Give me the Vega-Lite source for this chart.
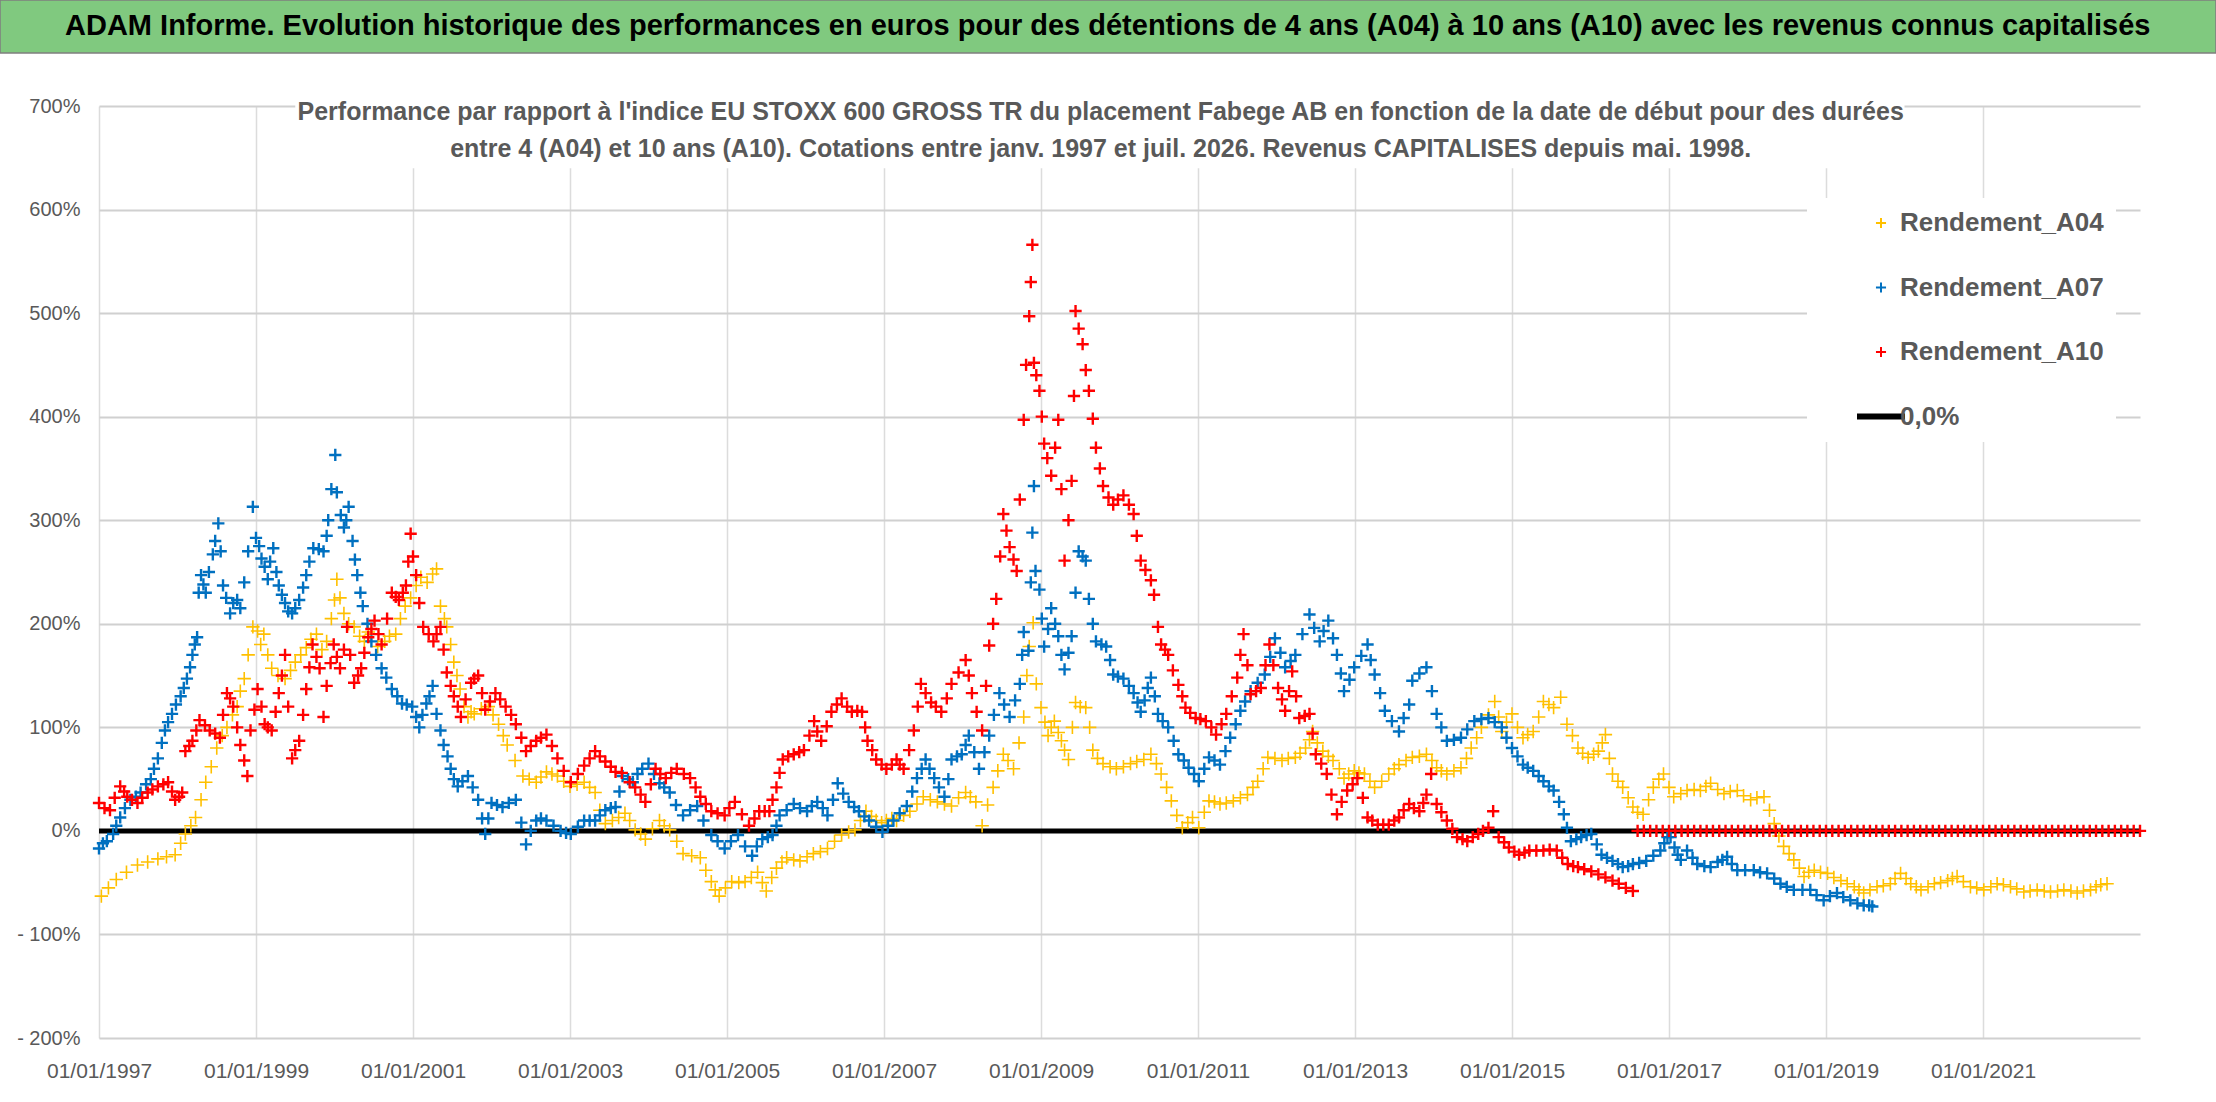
{
  "$schema": "https://vega.github.io/schema/vega-lite/v6.json",
  "background": "#ffffff",
  "autosize": "none",
  "padding": {"left": 99, "top": 106, "right": 76, "bottom": 64},
  "width": 2041,
  "height": 932,
  "config": {
    "font": "Liberation Sans",
    "view": {"stroke": null},
    "axis": {"labelColor": "#595959", "domain": false, "ticks": false, "title": null}
  },
  "datasets": {
    "a04": [
      {"annee":1997.03,"perf":-63},{"annee":1997.12,"perf":-55},{"annee":1997.22,"perf":-47},{"annee":1997.35,"perf":-40},{"annee":1997.49,"perf":-33},{"annee":1997.62,"perf":-30},{"annee":1997.75,"perf":-27},{"annee":1997.86,"perf":-25},{"annee":1997.97,"perf":-23},{"annee":1998.04,"perf":-12},{"annee":1998.1,"perf":-3},{"annee":1998.17,"perf":5},{"annee":1998.23,"perf":13},{"annee":1998.3,"perf":30},{"annee":1998.36,"perf":47},{"annee":1998.43,"perf":62},{"annee":1998.5,"perf":80},{"annee":1998.57,"perf":92},{"annee":1998.63,"perf":100},{"annee":1998.7,"perf":112},{"annee":1998.76,"perf":120},{"annee":1998.8,"perf":135},{"annee":1998.85,"perf":147},{"annee":1998.9,"perf":170},{"annee":1998.96,"perf":197},{"annee":1999.02,"perf":193},{"annee":1999.06,"perf":180},{"annee":1999.1,"perf":190},{"annee":1999.15,"perf":170},{"annee":1999.2,"perf":157},{"annee":1999.28,"perf":150},{"annee":1999.37,"perf":147},{"annee":1999.44,"perf":155},{"annee":1999.5,"perf":163},{"annee":1999.57,"perf":170},{"annee":1999.64,"perf":177},{"annee":1999.7,"perf":185},{"annee":1999.77,"perf":190},{"annee":1999.84,"perf":175},{"annee":1999.9,"perf":183},{"annee":1999.96,"perf":205},{"annee":2000.0,"perf":223},{"annee":2000.03,"perf":243},{"annee":2000.07,"perf":225},{"annee":2000.12,"perf":210},{"annee":2000.18,"perf":200},{"annee":2000.25,"perf":197},{"annee":2000.32,"perf":188},{"annee":2000.38,"perf":183},{"annee":2000.43,"perf":192},{"annee":2000.47,"perf":190},{"annee":2000.55,"perf":178},{"annee":2000.64,"perf":183},{"annee":2000.7,"perf":188},{"annee":2000.78,"perf":190},{"annee":2000.84,"perf":205},{"annee":2000.9,"perf":217},{"annee":2000.97,"perf":225},{"annee":2001.04,"perf":237},{"annee":2001.1,"perf":245},{"annee":2001.18,"perf":240},{"annee":2001.25,"perf":248},{"annee":2001.3,"perf":253},{"annee":2001.35,"perf":217},{"annee":2001.4,"perf":205},{"annee":2001.43,"perf":197},{"annee":2001.48,"perf":180},{"annee":2001.52,"perf":163},{"annee":2001.56,"perf":150},{"annee":2001.6,"perf":137},{"annee":2001.65,"perf":120},{"annee":2001.7,"perf":110},{"annee":2001.74,"perf":115},{"annee":2001.78,"perf":113},{"annee":2001.87,"perf":118},{"annee":2001.96,"perf":120},{"annee":2002.02,"perf":112},{"annee":2002.09,"perf":103},{"annee":2002.15,"perf":92},{"annee":2002.2,"perf":83},{"annee":2002.3,"perf":68},{"annee":2002.4,"perf":53},{"annee":2002.48,"perf":50},{"annee":2002.57,"perf":47},{"annee":2002.63,"perf":52},{"annee":2002.7,"perf":57},{"annee":2002.77,"perf":55},{"annee":2002.84,"perf":53},{"annee":2002.92,"perf":48},{"annee":2003.0,"perf":43},{"annee":2003.09,"perf":45},{"annee":2003.18,"perf":47},{"annee":2003.25,"perf":42},{"annee":2003.32,"perf":37},{"annee":2003.38,"perf":20},{"annee":2003.45,"perf":7},{"annee":2003.54,"perf":10},{"annee":2003.62,"perf":13},{"annee":2003.7,"perf":17},{"annee":2003.76,"perf":10},{"annee":2003.83,"perf":1},{"annee":2003.9,"perf":-3},{"annee":2003.96,"perf":-8},{"annee":2004.05,"perf":2},{"annee":2004.14,"perf":10},{"annee":2004.2,"perf":5},{"annee":2004.27,"perf":1},{"annee":2004.36,"perf":-10},{"annee":2004.44,"perf":-22},{"annee":2004.55,"perf":-24},{"annee":2004.66,"perf":-26},{"annee":2004.73,"perf":-38},{"annee":2004.8,"perf":-49},{"annee":2004.85,"perf":-57},{"annee":2004.9,"perf":-63},{"annee":2004.98,"perf":-55},{"annee":2005.06,"perf":-49},{"annee":2005.15,"perf":-50},{"annee":2005.23,"perf":-49},{"annee":2005.31,"perf":-45},{"annee":2005.39,"perf":-40},{"annee":2005.45,"perf":-50},{"annee":2005.5,"perf":-58},{"annee":2005.57,"perf":-45},{"annee":2005.63,"perf":-36},{"annee":2005.7,"perf":-30},{"annee":2005.76,"perf":-26},{"annee":2005.85,"perf":-28},{"annee":2005.93,"perf":-29},{"annee":2006.02,"perf":-25},{"annee":2006.1,"perf":-22},{"annee":2006.19,"perf":-20},{"annee":2006.28,"perf":-17},{"annee":2006.37,"perf":-10},{"annee":2006.46,"perf":-4},{"annee":2006.55,"perf":-1},{"annee":2006.63,"perf":1},{"annee":2006.7,"perf":10},{"annee":2006.77,"perf":19},{"annee":2006.84,"perf":14},{"annee":2006.9,"perf":10},{"annee":2006.97,"perf":8},{"annee":2007.03,"perf":10},{"annee":2007.1,"perf":12},{"annee":2007.16,"perf":10},{"annee":2007.25,"perf":15},{"annee":2007.33,"perf":19},{"annee":2007.42,"perf":26},{"annee":2007.5,"perf":33},{"annee":2007.59,"perf":30},{"annee":2007.68,"perf":28},{"annee":2007.77,"perf":26},{"annee":2007.86,"perf":24},{"annee":2007.95,"perf":32},{"annee":2008.04,"perf":37},{"annee":2008.1,"perf":33},{"annee":2008.17,"perf":28},{"annee":2008.25,"perf":5},{"annee":2008.32,"perf":25},{"annee":2008.39,"perf":42},{"annee":2008.45,"perf":58},{"annee":2008.52,"perf":74},{"annee":2008.58,"perf":68},{"annee":2008.65,"perf":60},{"annee":2008.72,"perf":85},{"annee":2008.78,"perf":110},{"annee":2008.82,"perf":150},{"annee":2008.85,"perf":178},{"annee":2008.9,"perf":201},{"annee":2008.94,"perf":142},{"annee":2009.0,"perf":119},{"annee":2009.05,"perf":105},{"annee":2009.09,"perf":92},{"annee":2009.13,"perf":100},{"annee":2009.17,"perf":106},{"annee":2009.22,"perf":95},{"annee":2009.26,"perf":87},{"annee":2009.3,"perf":78},{"annee":2009.35,"perf":69},{"annee":2009.4,"perf":100},{"annee":2009.44,"perf":124},{"annee":2009.5,"perf":120},{"annee":2009.57,"perf":119},{"annee":2009.62,"perf":100},{"annee":2009.66,"perf":78},{"annee":2009.72,"perf":70},{"annee":2009.79,"perf":65},{"annee":2009.88,"perf":62},{"annee":2009.96,"perf":60},{"annee":2010.05,"perf":62},{"annee":2010.14,"perf":65},{"annee":2010.22,"perf":67},{"annee":2010.31,"perf":69},{"annee":2010.4,"perf":74},{"annee":2010.47,"perf":65},{"annee":2010.53,"perf":55},{"annee":2010.6,"perf":42},{"annee":2010.66,"perf":29},{"annee":2010.73,"perf":15},{"annee":2010.8,"perf":3},{"annee":2010.87,"perf":8},{"annee":2010.93,"perf":13},{"annee":2011.01,"perf":3},{"annee":2011.08,"perf":18},{"annee":2011.14,"perf":29},{"annee":2011.21,"perf":28},{"annee":2011.28,"perf":26},{"annee":2011.36,"perf":27},{"annee":2011.45,"perf":29},{"annee":2011.54,"perf":32},{"annee":2011.63,"perf":35},{"annee":2011.7,"perf":42},{"annee":2011.76,"perf":48},{"annee":2011.83,"perf":60},{"annee":2011.89,"perf":71},{"annee":2011.98,"perf":70},{"annee":2012.07,"perf":68},{"annee":2012.15,"perf":70},{"annee":2012.24,"perf":71},{"annee":2012.3,"perf":75},{"annee":2012.37,"perf":80},{"annee":2012.42,"perf":88},{"annee":2012.46,"perf":96},{"annee":2012.52,"perf":85},{"annee":2012.59,"perf":77},{"annee":2012.66,"perf":72},{"annee":2012.72,"perf":68},{"annee":2012.8,"perf":60},{"annee":2012.86,"perf":51},{"annee":2012.92,"perf":55},{"annee":2012.99,"perf":58},{"annee":2013.05,"perf":56},{"annee":2013.12,"perf":55},{"annee":2013.19,"perf":48},{"annee":2013.25,"perf":42},{"annee":2013.34,"perf":48},{"annee":2013.43,"perf":55},{"annee":2013.5,"perf":60},{"annee":2013.56,"perf":64},{"annee":2013.65,"perf":68},{"annee":2013.73,"perf":71},{"annee":2013.82,"perf":72},{"annee":2013.91,"perf":74},{"annee":2013.98,"perf":68},{"annee":2014.04,"perf":61},{"annee":2014.1,"perf":58},{"annee":2014.17,"perf":55},{"annee":2014.26,"perf":58},{"annee":2014.35,"perf":61},{"annee":2014.42,"perf":70},{"annee":2014.48,"perf":80},{"annee":2014.55,"perf":90},{"annee":2014.61,"perf":100},{"annee":2014.7,"perf":112},{"annee":2014.78,"perf":125},{"annee":2014.83,"perf":110},{"annee":2014.87,"perf":96},{"annee":2014.93,"perf":105},{"annee":2015.0,"perf":113},{"annee":2015.07,"perf":100},{"annee":2015.14,"perf":90},{"annee":2015.2,"perf":93},{"annee":2015.27,"perf":96},{"annee":2015.34,"perf":110},{"annee":2015.4,"perf":125},{"annee":2015.47,"perf":122},{"annee":2015.53,"perf":119},{"annee":2015.62,"perf":129},{"annee":2015.7,"perf":103},{"annee":2015.77,"perf":92},{"annee":2015.84,"perf":80},{"annee":2015.9,"perf":75},{"annee":2015.97,"perf":71},{"annee":2016.04,"perf":74},{"annee":2016.1,"perf":77},{"annee":2016.15,"perf":85},{"annee":2016.19,"perf":93},{"annee":2016.24,"perf":70},{"annee":2016.28,"perf":55},{"annee":2016.35,"perf":48},{"annee":2016.41,"perf":42},{"annee":2016.48,"perf":32},{"annee":2016.54,"perf":23},{"annee":2016.6,"perf":18},{"annee":2016.67,"perf":16},{"annee":2016.74,"perf":30},{"annee":2016.8,"perf":42},{"annee":2016.87,"perf":50},{"annee":2016.93,"perf":55},{"annee":2017.0,"perf":42},{"annee":2017.06,"perf":33},{"annee":2017.15,"perf":36},{"annee":2017.23,"perf":39},{"annee":2017.32,"perf":40},{"annee":2017.4,"perf":39},{"annee":2017.47,"perf":43},{"annee":2017.53,"perf":46},{"annee":2017.62,"perf":40},{"annee":2017.7,"perf":36},{"annee":2017.78,"perf":38},{"annee":2017.87,"perf":39},{"annee":2017.95,"perf":34},{"annee":2018.04,"perf":30},{"annee":2018.12,"perf":32},{"annee":2018.21,"perf":33},{"annee":2018.28,"perf":20},{"annee":2018.34,"perf":7},{"annee":2018.4,"perf":-5},{"annee":2018.46,"perf":-15},{"annee":2018.53,"perf":-22},{"annee":2018.59,"perf":-28},{"annee":2018.66,"perf":-36},{"annee":2018.72,"perf":-44},{"annee":2018.78,"perf":-40},{"annee":2018.85,"perf":-38},{"annee":2018.93,"perf":-40},{"annee":2019.02,"perf":-41},{"annee":2019.1,"perf":-45},{"annee":2019.19,"perf":-48},{"annee":2019.27,"perf":-51},{"annee":2019.36,"perf":-54},{"annee":2019.42,"perf":-57},{"annee":2019.48,"perf":-60},{"annee":2019.56,"perf":-57},{"annee":2019.65,"perf":-54},{"annee":2019.73,"perf":-53},{"annee":2019.82,"perf":-51},{"annee":2019.88,"perf":-46},{"annee":2019.95,"perf":-41},{"annee":2020.02,"perf":-46},{"annee":2020.08,"perf":-51},{"annee":2020.15,"perf":-54},{"annee":2020.21,"perf":-57},{"annee":2020.3,"perf":-54},{"annee":2020.38,"perf":-51},{"annee":2020.46,"perf":-50},{"annee":2020.55,"perf":-48},{"annee":2020.61,"perf":-46},{"annee":2020.67,"perf":-44},{"annee":2020.75,"perf":-49},{"annee":2020.84,"perf":-54},{"annee":2020.92,"perf":-55},{"annee":2021.01,"perf":-57},{"annee":2021.1,"perf":-54},{"annee":2021.18,"perf":-51},{"annee":2021.26,"perf":-52},{"annee":2021.35,"perf":-54},{"annee":2021.43,"perf":-56},{"annee":2021.52,"perf":-59},{"annee":2021.6,"perf":-58},{"annee":2021.69,"perf":-57},{"annee":2021.78,"perf":-58},{"annee":2021.86,"perf":-59},{"annee":2021.95,"perf":-58},{"annee":2022.03,"perf":-57},{"annee":2022.12,"perf":-58},{"annee":2022.2,"perf":-60},{"annee":2022.28,"perf":-58},{"annee":2022.37,"perf":-57},{"annee":2022.44,"perf":-54},{"annee":2022.5,"perf":-52},{"annee":2022.58,"perf":-51}
    ],
    "a07": [
      {"annee":1997.0,"perf":-17},{"annee":1997.05,"perf":-12},{"annee":1997.1,"perf":-10},{"annee":1997.18,"perf":-3},{"annee":1997.22,"perf":5},{"annee":1997.27,"perf":13},{"annee":1997.33,"perf":22},{"annee":1997.4,"perf":30},{"annee":1997.47,"perf":33},{"annee":1997.53,"perf":37},{"annee":1997.6,"perf":45},{"annee":1997.66,"perf":50},{"annee":1997.7,"perf":60},{"annee":1997.75,"perf":70},{"annee":1997.8,"perf":85},{"annee":1997.84,"perf":97},{"annee":1997.88,"perf":105},{"annee":1997.93,"perf":113},{"annee":1997.98,"perf":122},{"annee":1998.04,"perf":130},{"annee":1998.08,"perf":138},{"annee":1998.12,"perf":147},{"annee":1998.16,"perf":158},{"annee":1998.19,"perf":170},{"annee":1998.22,"perf":180},{"annee":1998.25,"perf":187},{"annee":1998.27,"perf":230},{"annee":1998.3,"perf":247},{"annee":1998.33,"perf":238},{"annee":1998.36,"perf":230},{"annee":1998.4,"perf":250},{"annee":1998.45,"perf":267},{"annee":1998.48,"perf":280},{"annee":1998.52,"perf":297},{"annee":1998.55,"perf":270},{"annee":1998.58,"perf":237},{"annee":1998.62,"perf":225},{"annee":1998.67,"perf":210},{"annee":1998.71,"perf":220},{"annee":1998.76,"perf":223},{"annee":1998.8,"perf":215},{"annee":1998.85,"perf":240},{"annee":1998.9,"perf":270},{"annee":1998.96,"perf":313},{"annee":1999.0,"perf":283},{"annee":1999.04,"perf":275},{"annee":1999.07,"perf":263},{"annee":1999.11,"perf":255},{"annee":1999.15,"perf":243},{"annee":1999.18,"perf":260},{"annee":1999.22,"perf":273},{"annee":1999.26,"perf":250},{"annee":1999.29,"perf":237},{"annee":1999.33,"perf":228},{"annee":1999.37,"perf":220},{"annee":1999.41,"perf":212},{"annee":1999.46,"perf":210},{"annee":1999.5,"perf":215},{"annee":1999.55,"perf":223},{"annee":1999.6,"perf":235},{"annee":1999.64,"perf":247},{"annee":1999.68,"perf":260},{"annee":1999.73,"perf":273},{"annee":1999.8,"perf":272},{"annee":1999.86,"perf":270},{"annee":1999.9,"perf":285},{"annee":1999.92,"perf":300},{"annee":1999.96,"perf":330},{"annee":2000.01,"perf":363},{"annee":2000.03,"perf":327},{"annee":2000.08,"perf":305},{"annee":2000.12,"perf":293},{"annee":2000.15,"perf":300},{"annee":2000.18,"perf":313},{"annee":2000.23,"perf":280},{"annee":2000.26,"perf":262},{"annee":2000.29,"perf":247},{"annee":2000.33,"perf":230},{"annee":2000.36,"perf":217},{"annee":2000.42,"perf":200},{"annee":2000.47,"perf":183},{"annee":2000.53,"perf":170},{"annee":2000.6,"perf":157},{"annee":2000.66,"perf":148},{"annee":2000.73,"perf":137},{"annee":2000.8,"perf":130},{"annee":2000.86,"perf":123},{"annee":2000.92,"perf":122},{"annee":2000.99,"perf":120},{"annee":2001.04,"perf":110},{"annee":2001.08,"perf":100},{"annee":2001.12,"perf":112},{"annee":2001.17,"perf":123},{"annee":2001.21,"perf":130},{"annee":2001.25,"perf":140},{"annee":2001.3,"perf":113},{"annee":2001.35,"perf":97},{"annee":2001.39,"perf":83},{"annee":2001.44,"perf":72},{"annee":2001.48,"perf":60},{"annee":2001.52,"perf":50},{"annee":2001.57,"perf":43},{"annee":2001.63,"perf":48},{"annee":2001.7,"perf":53},{"annee":2001.76,"perf":42},{"annee":2001.83,"perf":30},{"annee":2001.88,"perf":12},{"annee":2001.92,"perf":-3},{"annee":2001.96,"perf":12},{"annee":2002.0,"perf":27},{"annee":2002.07,"perf":25},{"annee":2002.14,"perf":23},{"annee":2002.22,"perf":27},{"annee":2002.31,"perf":30},{"annee":2002.38,"perf":8},{"annee":2002.44,"perf":-13},{"annee":2002.5,"perf":0},{"annee":2002.57,"perf":10},{"annee":2002.63,"perf":12},{"annee":2002.7,"perf":10},{"annee":2002.79,"perf":5},{"annee":2002.88,"perf":0},{"annee":2002.95,"perf":-2},{"annee":2003.01,"perf":-3},{"annee":2003.1,"perf":4},{"annee":2003.18,"perf":10},{"annee":2003.25,"perf":10},{"annee":2003.32,"perf":10},{"annee":2003.38,"perf":15},{"annee":2003.45,"perf":20},{"annee":2003.52,"perf":22},{"annee":2003.58,"perf":23},{"annee":2003.63,"perf":38},{"annee":2003.67,"perf":53},{"annee":2003.74,"perf":50},{"annee":2003.8,"perf":47},{"annee":2003.86,"perf":55},{"annee":2003.92,"perf":60},{"annee":2004.0,"perf":65},{"annee":2004.07,"perf":55},{"annee":2004.14,"perf":46},{"annee":2004.2,"perf":42},{"annee":2004.27,"perf":37},{"annee":2004.35,"perf":25},{"annee":2004.44,"perf":15},{"annee":2004.53,"perf":20},{"annee":2004.62,"perf":24},{"annee":2004.7,"perf":10},{"annee":2004.8,"perf":-4},{"annee":2004.88,"perf":-10},{"annee":2004.97,"perf":-17},{"annee":2005.05,"perf":-10},{"annee":2005.14,"perf":-4},{"annee":2005.23,"perf":-15},{"annee":2005.32,"perf":-24},{"annee":2005.38,"perf":-15},{"annee":2005.45,"perf":-8},{"annee":2005.52,"perf":-6},{"annee":2005.58,"perf":-4},{"annee":2005.63,"perf":5},{"annee":2005.67,"perf":15},{"annee":2005.76,"perf":20},{"annee":2005.85,"perf":26},{"annee":2005.93,"perf":22},{"annee":2006.02,"perf":19},{"annee":2006.08,"perf":24},{"annee":2006.15,"perf":28},{"annee":2006.22,"perf":22},{"annee":2006.28,"perf":15},{"annee":2006.35,"perf":30},{"annee":2006.41,"perf":46},{"annee":2006.48,"perf":36},{"annee":2006.55,"perf":28},{"annee":2006.62,"perf":23},{"annee":2006.68,"perf":19},{"annee":2006.75,"perf":14},{"annee":2006.81,"perf":10},{"annee":2006.9,"perf":4},{"annee":2006.98,"perf":-1},{"annee":2007.05,"perf":5},{"annee":2007.12,"perf":10},{"annee":2007.2,"perf":17},{"annee":2007.29,"perf":24},{"annee":2007.36,"perf":38},{"annee":2007.42,"perf":51},{"annee":2007.48,"perf":60},{"annee":2007.53,"perf":69},{"annee":2007.58,"perf":60},{"annee":2007.64,"perf":51},{"annee":2007.7,"perf":42},{"annee":2007.77,"perf":33},{"annee":2007.82,"perf":50},{"annee":2007.86,"perf":69},{"annee":2007.93,"perf":72},{"annee":2007.99,"perf":74},{"annee":2008.04,"perf":83},{"annee":2008.08,"perf":92},{"annee":2008.15,"perf":76},{"annee":2008.21,"perf":60},{"annee":2008.28,"perf":76},{"annee":2008.34,"perf":92},{"annee":2008.4,"perf":112},{"annee":2008.47,"perf":133},{"annee":2008.53,"perf":122},{"annee":2008.6,"perf":110},{"annee":2008.67,"perf":126},{"annee":2008.73,"perf":142},{"annee":2008.76,"perf":170},{"annee":2008.78,"perf":192},{"annee":2008.84,"perf":174},{"annee":2008.87,"perf":240},{"annee":2008.89,"perf":288},{"annee":2008.91,"perf":333},{"annee":2008.93,"perf":251},{"annee":2008.98,"perf":233},{"annee":2009.01,"perf":205},{"annee":2009.04,"perf":178},{"annee":2009.09,"perf":195},{"annee":2009.13,"perf":215},{"annee":2009.18,"perf":200},{"annee":2009.22,"perf":188},{"annee":2009.26,"perf":170},{"annee":2009.3,"perf":156},{"annee":2009.35,"perf":172},{"annee":2009.39,"perf":188},{"annee":2009.44,"perf":230},{"annee":2009.48,"perf":270},{"annee":2009.53,"perf":265},{"annee":2009.57,"perf":261},{"annee":2009.61,"perf":224},{"annee":2009.66,"perf":200},{"annee":2009.7,"perf":183},{"annee":2009.77,"perf":180},{"annee":2009.83,"perf":178},{"annee":2009.88,"perf":165},{"annee":2009.92,"perf":151},{"annee":2009.98,"perf":149},{"annee":2010.05,"perf":147},{"annee":2010.12,"perf":140},{"annee":2010.18,"perf":133},{"annee":2010.23,"perf":124},{"annee":2010.27,"perf":115},{"annee":2010.32,"perf":126},{"annee":2010.36,"perf":138},{"annee":2010.4,"perf":148},{"annee":2010.45,"perf":130},{"annee":2010.49,"perf":113},{"annee":2010.55,"perf":106},{"annee":2010.62,"perf":100},{"annee":2010.69,"perf":87},{"annee":2010.75,"perf":74},{"annee":2010.82,"perf":68},{"annee":2010.88,"perf":61},{"annee":2010.95,"perf":55},{"annee":2011.01,"perf":48},{"annee":2011.08,"perf":60},{"annee":2011.14,"perf":71},{"annee":2011.21,"perf":68},{"annee":2011.28,"perf":64},{"annee":2011.35,"perf":77},{"annee":2011.41,"perf":90},{"annee":2011.48,"perf":103},{"annee":2011.54,"perf":116},{"annee":2011.6,"perf":125},{"annee":2011.67,"perf":135},{"annee":2011.76,"perf":143},{"annee":2011.85,"perf":151},{"annee":2011.92,"perf":168},{"annee":2011.98,"perf":186},{"annee":2012.05,"perf":172},{"annee":2012.11,"perf":158},{"annee":2012.18,"perf":164},{"annee":2012.24,"perf":170},{"annee":2012.33,"perf":190},{"annee":2012.42,"perf":209},{"annee":2012.48,"perf":196},{"annee":2012.55,"perf":183},{"annee":2012.6,"perf":193},{"annee":2012.66,"perf":203},{"annee":2012.72,"perf":186},{"annee":2012.77,"perf":170},{"annee":2012.82,"perf":152},{"annee":2012.86,"perf":135},{"annee":2012.93,"perf":146},{"annee":2012.99,"perf":158},{"annee":2013.08,"perf":169},{"annee":2013.16,"perf":180},{"annee":2013.2,"perf":165},{"annee":2013.25,"perf":151},{"annee":2013.32,"perf":133},{"annee":2013.38,"perf":116},{"annee":2013.47,"perf":106},{"annee":2013.56,"perf":96},{"annee":2013.62,"perf":109},{"annee":2013.69,"perf":122},{"annee":2013.73,"perf":145},{"annee":2013.82,"perf":152},{"annee":2013.91,"perf":158},{"annee":2013.98,"perf":135},{"annee":2014.04,"perf":113},{"annee":2014.1,"perf":100},{"annee":2014.17,"perf":87},{"annee":2014.26,"perf":88},{"annee":2014.35,"perf":90},{"annee":2014.43,"perf":98},{"annee":2014.52,"perf":106},{"annee":2014.61,"perf":108},{"annee":2014.7,"perf":109},{"annee":2014.78,"perf":105},{"annee":2014.87,"perf":100},{"annee":2014.93,"perf":90},{"annee":2015.0,"perf":80},{"annee":2015.07,"perf":72},{"annee":2015.14,"perf":64},{"annee":2015.2,"perf":61},{"annee":2015.27,"perf":58},{"annee":2015.34,"perf":53},{"annee":2015.4,"perf":48},{"annee":2015.47,"perf":43},{"annee":2015.53,"perf":39},{"annee":2015.6,"perf":28},{"annee":2015.66,"perf":16},{"annee":2015.7,"perf":3},{"annee":2015.75,"perf":-10},{"annee":2015.82,"perf":-8},{"annee":2015.88,"perf":-6},{"annee":2015.95,"perf":-4},{"annee":2016.01,"perf":-3},{"annee":2016.08,"perf":-13},{"annee":2016.14,"perf":-23},{"annee":2016.21,"perf":-26},{"annee":2016.28,"perf":-29},{"annee":2016.35,"perf":-32},{"annee":2016.41,"perf":-35},{"annee":2016.48,"perf":-34},{"annee":2016.54,"perf":-32},{"annee":2016.62,"perf":-31},{"annee":2016.71,"perf":-29},{"annee":2016.8,"perf":-24},{"annee":2016.89,"perf":-19},{"annee":2016.94,"perf":-12},{"annee":2016.98,"perf":-6},{"annee":2017.02,"perf":-6},{"annee":2017.07,"perf":-16},{"annee":2017.11,"perf":-23},{"annee":2017.15,"perf":-28},{"annee":2017.23,"perf":-19},{"annee":2017.3,"perf":-26},{"annee":2017.36,"perf":-32},{"annee":2017.45,"perf":-34},{"annee":2017.53,"perf":-35},{"annee":2017.62,"perf":-30},{"annee":2017.68,"perf":-28},{"annee":2017.74,"perf":-25},{"annee":2017.8,"perf":-32},{"annee":2017.87,"perf":-38},{"annee":2017.97,"perf":-38},{"annee":2018.08,"perf":-38},{"annee":2018.16,"perf":-40},{"annee":2018.25,"perf":-41},{"annee":2018.34,"perf":-46},{"annee":2018.42,"perf":-51},{"annee":2018.5,"perf":-54},{"annee":2018.59,"perf":-57},{"annee":2018.7,"perf":-57},{"annee":2018.8,"perf":-57},{"annee":2018.88,"perf":-62},{"annee":2018.97,"perf":-67},{"annee":2019.05,"perf":-63},{"annee":2019.14,"perf":-60},{"annee":2019.22,"perf":-64},{"annee":2019.31,"perf":-67},{"annee":2019.4,"perf":-70},{"annee":2019.48,"perf":-72},{"annee":2019.55,"perf":-72},{"annee":2019.59,"perf":-73}
    ],
    "a10": [
      {"annee":1997.0,"perf":27},{"annee":1997.07,"perf":22},{"annee":1997.14,"perf":20},{"annee":1997.2,"perf":32},{"annee":1997.27,"perf":43},{"annee":1997.32,"perf":38},{"annee":1997.36,"perf":33},{"annee":1997.42,"perf":30},{"annee":1997.49,"perf":27},{"annee":1997.55,"perf":32},{"annee":1997.62,"perf":37},{"annee":1997.68,"perf":40},{"annee":1997.75,"perf":43},{"annee":1997.82,"perf":45},{"annee":1997.88,"perf":47},{"annee":1997.93,"perf":38},{"annee":1997.97,"perf":30},{"annee":1998.02,"perf":33},{"annee":1998.06,"perf":37},{"annee":1998.1,"perf":77},{"annee":1998.15,"perf":82},{"annee":1998.19,"perf":87},{"annee":1998.24,"perf":97},{"annee":1998.28,"perf":107},{"annee":1998.35,"perf":102},{"annee":1998.41,"perf":97},{"annee":1998.48,"perf":94},{"annee":1998.54,"perf":90},{"annee":1998.58,"perf":112},{"annee":1998.63,"perf":133},{"annee":1998.67,"perf":128},{"annee":1998.71,"perf":120},{"annee":1998.76,"perf":100},{"annee":1998.8,"perf":83},{"annee":1998.85,"perf":68},{"annee":1998.89,"perf":53},{"annee":1998.93,"perf":97},{"annee":1998.98,"perf":117},{"annee":1999.02,"perf":137},{"annee":1999.07,"perf":120},{"annee":1999.11,"perf":103},{"annee":1999.15,"perf":100},{"annee":1999.2,"perf":97},{"annee":1999.25,"perf":115},{"annee":1999.29,"perf":133},{"annee":1999.33,"perf":150},{"annee":1999.37,"perf":170},{"annee":1999.41,"perf":120},{"annee":1999.46,"perf":70},{"annee":1999.5,"perf":78},{"annee":1999.55,"perf":87},{"annee":1999.6,"perf":112},{"annee":1999.64,"perf":137},{"annee":1999.68,"perf":158},{"annee":1999.72,"perf":180},{"annee":1999.77,"perf":168},{"annee":1999.81,"perf":157},{"annee":1999.86,"perf":110},{"annee":1999.9,"perf":140},{"annee":1999.95,"perf":162},{"annee":1999.99,"perf":180},{"annee":2000.03,"perf":168},{"annee":2000.07,"perf":157},{"annee":2000.12,"perf":175},{"annee":2000.16,"perf":197},{"annee":2000.2,"perf":170},{"annee":2000.25,"perf":143},{"annee":2000.3,"perf":150},{"annee":2000.34,"perf":157},{"annee":2000.38,"perf":172},{"annee":2000.43,"perf":187},{"annee":2000.47,"perf":195},{"annee":2000.51,"perf":203},{"annee":2000.56,"perf":190},{"annee":2000.6,"perf":180},{"annee":2000.67,"perf":205},{"annee":2000.73,"perf":230},{"annee":2000.78,"perf":226},{"annee":2000.82,"perf":223},{"annee":2000.87,"perf":230},{"annee":2000.91,"perf":237},{"annee":2000.94,"perf":260},{"annee":2000.97,"perf":287},{"annee":2001.0,"perf":265},{"annee":2001.04,"perf":247},{"annee":2001.08,"perf":220},{"annee":2001.13,"perf":197},{"annee":2001.2,"perf":190},{"annee":2001.26,"perf":183},{"annee":2001.3,"perf":190},{"annee":2001.35,"perf":197},{"annee":2001.39,"perf":175},{"annee":2001.43,"perf":153},{"annee":2001.48,"perf":140},{"annee":2001.52,"perf":130},{"annee":2001.57,"perf":120},{"annee":2001.61,"perf":110},{"annee":2001.67,"perf":127},{"annee":2001.74,"perf":143},{"annee":2001.78,"perf":147},{"annee":2001.83,"perf":150},{"annee":2001.88,"perf":133},{"annee":2001.92,"perf":117},{"annee":2001.98,"perf":125},{"annee":2002.05,"perf":133},{"annee":2002.11,"perf":127},{"annee":2002.18,"perf":120},{"annee":2002.25,"perf":112},{"annee":2002.31,"perf":103},{"annee":2002.38,"perf":90},{"annee":2002.44,"perf":77},{"annee":2002.5,"perf":82},{"annee":2002.57,"perf":87},{"annee":2002.63,"perf":90},{"annee":2002.7,"perf":93},{"annee":2002.77,"perf":82},{"annee":2002.84,"perf":70},{"annee":2002.92,"perf":58},{"annee":2003.01,"perf":47},{"annee":2003.1,"perf":55},{"annee":2003.18,"perf":63},{"annee":2003.25,"perf":70},{"annee":2003.32,"perf":77},{"annee":2003.38,"perf":72},{"annee":2003.45,"perf":67},{"annee":2003.52,"perf":62},{"annee":2003.58,"perf":57},{"annee":2003.66,"perf":56},{"annee":2003.76,"perf":47},{"annee":2003.83,"perf":42},{"annee":2003.9,"perf":35},{"annee":2003.96,"perf":28},{"annee":2004.03,"perf":45},{"annee":2004.09,"perf":60},{"annee":2004.15,"perf":55},{"annee":2004.22,"perf":51},{"annee":2004.29,"perf":56},{"annee":2004.36,"perf":60},{"annee":2004.45,"perf":55},{"annee":2004.53,"perf":51},{"annee":2004.6,"perf":42},{"annee":2004.66,"perf":33},{"annee":2004.73,"perf":26},{"annee":2004.8,"perf":19},{"annee":2004.88,"perf":17},{"annee":2004.97,"perf":15},{"annee":2005.03,"perf":22},{"annee":2005.1,"perf":28},{"annee":2005.19,"perf":16},{"annee":2005.28,"perf":5},{"annee":2005.35,"perf":12},{"annee":2005.41,"perf":19},{"annee":2005.48,"perf":19},{"annee":2005.54,"perf":19},{"annee":2005.58,"perf":30},{"annee":2005.63,"perf":42},{"annee":2005.67,"perf":56},{"annee":2005.71,"perf":69},{"annee":2005.78,"perf":72},{"annee":2005.85,"perf":74},{"annee":2005.92,"perf":76},{"annee":2005.98,"perf":78},{"annee":2006.05,"perf":92},{"annee":2006.11,"perf":106},{"annee":2006.15,"perf":96},{"annee":2006.2,"perf":87},{"annee":2006.27,"perf":101},{"annee":2006.33,"perf":115},{"annee":2006.4,"perf":122},{"annee":2006.46,"perf":128},{"annee":2006.53,"perf":120},{"annee":2006.59,"perf":115},{"annee":2006.66,"perf":116},{"annee":2006.72,"perf":115},{"annee":2006.76,"perf":100},{"annee":2006.79,"perf":87},{"annee":2006.85,"perf":78},{"annee":2006.9,"perf":69},{"annee":2006.97,"perf":64},{"annee":2007.03,"perf":60},{"annee":2007.1,"perf":64},{"annee":2007.16,"perf":69},{"annee":2007.2,"perf":64},{"annee":2007.25,"perf":60},{"annee":2007.32,"perf":78},{"annee":2007.38,"perf":97},{"annee":2007.43,"perf":120},{"annee":2007.47,"perf":142},{"annee":2007.53,"perf":133},{"annee":2007.6,"perf":124},{"annee":2007.66,"perf":120},{"annee":2007.73,"perf":115},{"annee":2007.8,"perf":128},{"annee":2007.86,"perf":142},{"annee":2007.95,"perf":153},{"annee":2008.04,"perf":165},{"annee":2008.08,"perf":150},{"annee":2008.12,"perf":133},{"annee":2008.18,"perf":115},{"annee":2008.25,"perf":97},{"annee":2008.3,"perf":140},{"annee":2008.34,"perf":179},{"annee":2008.39,"perf":200},{"annee":2008.43,"perf":224},{"annee":2008.48,"perf":265},{"annee":2008.52,"perf":306},{"annee":2008.56,"perf":290},{"annee":2008.6,"perf":274},{"annee":2008.65,"perf":262},{"annee":2008.69,"perf":251},{"annee":2008.73,"perf":320},{"annee":2008.78,"perf":397},{"annee":2008.81,"perf":450},{"annee":2008.85,"perf":497},{"annee":2008.87,"perf":530},{"annee":2008.89,"perf":566},{"annee":2008.91,"perf":452},{"annee":2008.94,"perf":440},{"annee":2008.98,"perf":425},{"annee":2009.01,"perf":400},{"annee":2009.04,"perf":374},{"annee":2009.08,"perf":360},{"annee":2009.13,"perf":343},{"annee":2009.18,"perf":370},{"annee":2009.22,"perf":397},{"annee":2009.26,"perf":330},{"annee":2009.3,"perf":261},{"annee":2009.35,"perf":300},{"annee":2009.39,"perf":338},{"annee":2009.42,"perf":420},{"annee":2009.44,"perf":502},{"annee":2009.48,"perf":485},{"annee":2009.53,"perf":470},{"annee":2009.57,"perf":445},{"annee":2009.61,"perf":425},{"annee":2009.66,"perf":398},{"annee":2009.7,"perf":370},{"annee":2009.75,"perf":350},{"annee":2009.79,"perf":333},{"annee":2009.86,"perf":322},{"annee":2009.92,"perf":315},{"annee":2009.98,"perf":320},{"annee":2010.05,"perf":324},{"annee":2010.12,"perf":315},{"annee":2010.18,"perf":306},{"annee":2010.22,"perf":285},{"annee":2010.27,"perf":261},{"annee":2010.33,"perf":252},{"annee":2010.4,"perf":242},{"annee":2010.44,"perf":228},{"annee":2010.49,"perf":197},{"annee":2010.53,"perf":180},{"annee":2010.58,"perf":175},{"annee":2010.62,"perf":170},{"annee":2010.68,"perf":155},{"annee":2010.75,"perf":141},{"annee":2010.8,"perf":130},{"annee":2010.84,"perf":119},{"annee":2010.9,"perf":114},{"annee":2010.97,"perf":109},{"annee":2011.03,"perf":108},{"annee":2011.1,"perf":106},{"annee":2011.17,"perf":100},{"annee":2011.23,"perf":93},{"annee":2011.3,"perf":103},{"annee":2011.36,"perf":113},{"annee":2011.43,"perf":130},{"annee":2011.5,"perf":148},{"annee":2011.54,"perf":170},{"annee":2011.58,"perf":190},{"annee":2011.63,"perf":160},{"annee":2011.67,"perf":132},{"annee":2011.74,"perf":135},{"annee":2011.8,"perf":138},{"annee":2011.86,"perf":160},{"annee":2011.91,"perf":180},{"annee":2011.96,"perf":160},{"annee":2012.02,"perf":138},{"annee":2012.07,"perf":127},{"annee":2012.11,"perf":116},{"annee":2012.16,"perf":135},{"annee":2012.2,"perf":154},{"annee":2012.25,"perf":130},{"annee":2012.29,"perf":109},{"annee":2012.36,"perf":111},{"annee":2012.42,"perf":113},{"annee":2012.46,"perf":94},{"annee":2012.5,"perf":74},{"annee":2012.57,"perf":65},{"annee":2012.64,"perf":55},{"annee":2012.7,"perf":35},{"annee":2012.77,"perf":16},{"annee":2012.83,"perf":28},{"annee":2012.9,"perf":39},{"annee":2012.97,"perf":45},{"annee":2013.03,"perf":51},{"annee":2013.1,"perf":32},{"annee":2013.16,"perf":13},{"annee":2013.22,"perf":10},{"annee":2013.29,"perf":6},{"annee":2013.36,"perf":6},{"annee":2013.43,"perf":6},{"annee":2013.5,"perf":10},{"annee":2013.56,"perf":13},{"annee":2013.62,"perf":20},{"annee":2013.69,"perf":26},{"annee":2013.75,"perf":22},{"annee":2013.82,"perf":19},{"annee":2013.87,"perf":27},{"annee":2013.91,"perf":35},{"annee":2013.97,"perf":55},{"annee":2014.04,"perf":26},{"annee":2014.1,"perf":18},{"annee":2014.17,"perf":10},{"annee":2014.24,"perf":2},{"annee":2014.3,"perf":-6},{"annee":2014.37,"perf":-8},{"annee":2014.43,"perf":-10},{"annee":2014.5,"perf":-6},{"annee":2014.57,"perf":-3},{"annee":2014.63,"perf":0},{"annee":2014.7,"perf":3},{"annee":2014.76,"perf":19},{"annee":2014.83,"perf":-6},{"annee":2014.9,"perf":-11},{"annee":2014.96,"perf":-16},{"annee":2015.03,"perf":-20},{"annee":2015.09,"perf":-23},{"annee":2015.16,"perf":-21},{"annee":2015.22,"perf":-19},{"annee":2015.31,"perf":-19},{"annee":2015.4,"perf":-19},{"annee":2015.48,"perf":-18},{"annee":2015.57,"perf":-19},{"annee":2015.64,"perf":-26},{"annee":2015.71,"perf":-32},{"annee":2015.78,"perf":-34},{"annee":2015.84,"perf":-35},{"annee":2015.92,"perf":-37},{"annee":2016.01,"perf":-39},{"annee":2016.1,"perf":-42},{"annee":2016.19,"perf":-45},{"annee":2016.28,"perf":-48},{"annee":2016.36,"perf":-51},{"annee":2016.45,"perf":-55},{"annee":2016.54,"perf":-58},
      {"annee":2016.6,"perf":0},{"annee":2016.68,"perf":0},{"annee":2016.76,"perf":0},{"annee":2016.84,"perf":0},{"annee":2016.92,"perf":0},{"annee":2017.0,"perf":0},{"annee":2017.08,"perf":0},{"annee":2017.16,"perf":0},{"annee":2017.24,"perf":0},{"annee":2017.32,"perf":0},{"annee":2017.4,"perf":0},{"annee":2017.48,"perf":0},{"annee":2017.56,"perf":0},{"annee":2017.64,"perf":0},{"annee":2017.72,"perf":0},{"annee":2017.8,"perf":0},{"annee":2017.88,"perf":0},{"annee":2017.96,"perf":0},{"annee":2018.04,"perf":0},{"annee":2018.12,"perf":0},{"annee":2018.2,"perf":0},{"annee":2018.28,"perf":0},{"annee":2018.36,"perf":0},{"annee":2018.44,"perf":0},{"annee":2018.52,"perf":0},{"annee":2018.6,"perf":0},{"annee":2018.68,"perf":0},{"annee":2018.76,"perf":0},{"annee":2018.84,"perf":0},{"annee":2018.92,"perf":0},{"annee":2019.0,"perf":0},{"annee":2019.08,"perf":0},{"annee":2019.16,"perf":0},{"annee":2019.24,"perf":0},{"annee":2019.32,"perf":0},{"annee":2019.4,"perf":0},{"annee":2019.48,"perf":0},{"annee":2019.56,"perf":0},{"annee":2019.64,"perf":0},{"annee":2019.72,"perf":0},{"annee":2019.8,"perf":0},{"annee":2019.88,"perf":0},{"annee":2019.96,"perf":0},{"annee":2020.04,"perf":0},{"annee":2020.12,"perf":0},{"annee":2020.2,"perf":0},{"annee":2020.28,"perf":0},{"annee":2020.36,"perf":0},{"annee":2020.44,"perf":0},{"annee":2020.52,"perf":0},{"annee":2020.6,"perf":0},{"annee":2020.68,"perf":0},{"annee":2020.76,"perf":0},{"annee":2020.84,"perf":0},{"annee":2020.92,"perf":0},{"annee":2021.0,"perf":0},{"annee":2021.08,"perf":0},{"annee":2021.16,"perf":0},{"annee":2021.24,"perf":0},{"annee":2021.32,"perf":0},{"annee":2021.4,"perf":0},{"annee":2021.48,"perf":0},{"annee":2021.56,"perf":0},{"annee":2021.64,"perf":0},{"annee":2021.72,"perf":0},{"annee":2021.8,"perf":0},{"annee":2021.88,"perf":0},{"annee":2021.96,"perf":0},{"annee":2022.04,"perf":0},{"annee":2022.12,"perf":0},{"annee":2022.2,"perf":0},{"annee":2022.28,"perf":0},{"annee":2022.36,"perf":0},{"annee":2022.44,"perf":0},{"annee":2022.52,"perf":0},{"annee":2022.6,"perf":0},{"annee":2022.68,"perf":0},{"annee":2022.76,"perf":0},{"annee":2022.84,"perf":0},{"annee":2022.92,"perf":0},{"annee":2023.0,"perf":0}
    ],
    "zero": [{"annee":1997,"perf":0},{"annee":2023,"perf":0}]
  },
  "layer": [
    {
      "data": {"name": "zero"},
      "mark": {"type": "line", "strokeWidth": 5},
      "encoding": {
        "x": {
          "field": "annee",
          "type": "quantitative",
          "scale": {"domain": [1997, 2023], "nice": false, "zero": false},
          "axis": {
            "values": [1997, 1999, 2001, 2003, 2005, 2007, 2009, 2011, 2013, 2015, 2017, 2019, 2021],
            "labelExpr": "'01/01/' + datum.value",
            "labelOverlap": false,
            "labelFlush": false,
            "labelFontSize": 21,
            "labelPadding": 22,
            "gridColor": "#DCDCDC",
            "gridWidth": 1.5
          }
        },
        "y": {
          "field": "perf",
          "type": "quantitative",
          "scale": {"domain": [-200, 700], "nice": false, "zero": false},
          "axis": {
            "values": [-200, -100, 0, 100, 200, 300, 400, 500, 600, 700],
            "labelExpr": "datum.value < 0 ? '- ' + abs(datum.value) + '%' : datum.value + '%'",
            "labelOverlap": false,
            "labelFontSize": 20,
            "labelPadding": 19,
            "gridColor": "#D0D0D0",
            "gridWidth": 2.2
          }
        },
        "color": {
          "datum": "0,0%",
          "scale": {
            "domain": ["Rendement_A04", "Rendement_A07", "Rendement_A10", "0,0%"],
            "range": ["#FFC000", "#0070C0", "#FF0000", "#000000"]
          },
          "legend": {
            "title": " ",
            "titleOrient": "left",
            "titlePadding": 49,
            "titleFontSize": 26,
            "orient": "none",
            "legendX": 1708,
            "legendY": 92,
            "padding": 12,
            "fillColor": "#ffffff",
            "labelFontSize": 26,
            "labelFontWeight": "bold",
            "labelColor": "#595959",
            "labelLimit": 400,
            "labelOffset": 6,
            "rowPadding": 38.5,
            "symbolSize": 2304,
            "encode": {
              "symbols": {
                "update": {
                  "shape": {"signal": "datum.value === '0,0%' ? 'M-1,0H1M-1,-0.06H1M-1,0.06H1' : 'M-0.21,0H0.21M0,-0.21V0.21'"},
                  "stroke": {"signal": "datum.value === '0,0%' ? '#000000' : scale('color', datum.value)"},
                  "strokeWidth": {"signal": "datum.value === '0,0%' ? 3 : 2"},
                  "fill": {"value": "transparent"},
                  "size": {"value": 2304},
                  "opacity": {"value": 1}
                }
              }
            }
          }
        }
      }
    },
    {
      "data": {"values": [{}]},
      "mark": {"type": "rect", "color": "#80C97F", "stroke": "#7F7F7F", "strokeWidth": 1.5, "clip": false},
      "encoding": {
        "x": {"datum": 1995.739, "type": "quantitative"},
        "x2": {"datum": 2023.968},
        "y": {"datum": 802.4, "type": "quantitative"},
        "y2": {"datum": 751.2}
      }
    },
    {
      "data": {"values": [{}]},
      "mark": {"type": "text", "fontSize": 29, "fontWeight": "bold", "color": "#000000", "align": "center", "baseline": "middle", "clip": false},
      "encoding": {
        "x": {"datum": 2009.85, "type": "quantitative"},
        "y": {"datum": 777.3, "type": "quantitative"},
        "text": {"value": "ADAM Informe. Evolution historique des performances en euros pour des détentions de 4 ans (A04) à 10 ans (A10) avec les revenus connus capitalisés"}
      }
    },
    {
      "data": {"values": [{}]},
      "mark": {"type": "rect", "color": "#ffffff", "clip": false},
      "encoding": {
        "x": {"datum": 1999.5, "type": "quantitative"},
        "x2": {"datum": 2020.0},
        "y": {"datum": 640, "type": "quantitative"},
        "y2": {"datum": 702}
      }
    },
    {
      "data": {"values": [{}]},
      "mark": {"type": "text", "fontSize": 25, "fontWeight": "bold", "color": "#595959", "align": "center", "baseline": "middle", "lineHeight": 37, "clip": false},
      "encoding": {
        "x": {"datum": 2009.76, "type": "quantitative"},
        "y": {"datum": 694, "type": "quantitative"},
        "text": {"value": ["Performance par rapport à l'indice EU STOXX 600 GROSS TR  du placement Fabege AB en fonction de la date de début pour des durées", "entre 4 (A04) et 10 ans (A10). Cotations entre janv. 1997 et juil. 2026. Revenus CAPITALISES depuis mai. 1998."]}
      }
    },
    {
      "data": {"name": "a04"},
      "mark": {"type": "point", "shape": "M-1,0H1M0,-1V1", "filled": false, "size": 180, "strokeWidth": 1.6, "opacity": 1},
      "encoding": {
        "x": {"field": "annee", "type": "quantitative"},
        "y": {"field": "perf", "type": "quantitative"},
        "color": {"datum": "Rendement_A04"}
      }
    },
    {
      "data": {"name": "a07"},
      "mark": {"type": "point", "shape": "M-1,0H1M0,-1V1", "filled": false, "size": 150, "strokeWidth": 2.4, "opacity": 1},
      "encoding": {
        "x": {"field": "annee", "type": "quantitative"},
        "y": {"field": "perf", "type": "quantitative"},
        "color": {"datum": "Rendement_A07"}
      }
    },
    {
      "data": {"name": "a10"},
      "mark": {"type": "point", "shape": "M-1,0H1M0,-1V1", "filled": false, "size": 150, "strokeWidth": 2.4, "opacity": 1},
      "encoding": {
        "x": {"field": "annee", "type": "quantitative"},
        "y": {"field": "perf", "type": "quantitative"},
        "color": {"datum": "Rendement_A10"}
      }
    }
  ]
}
